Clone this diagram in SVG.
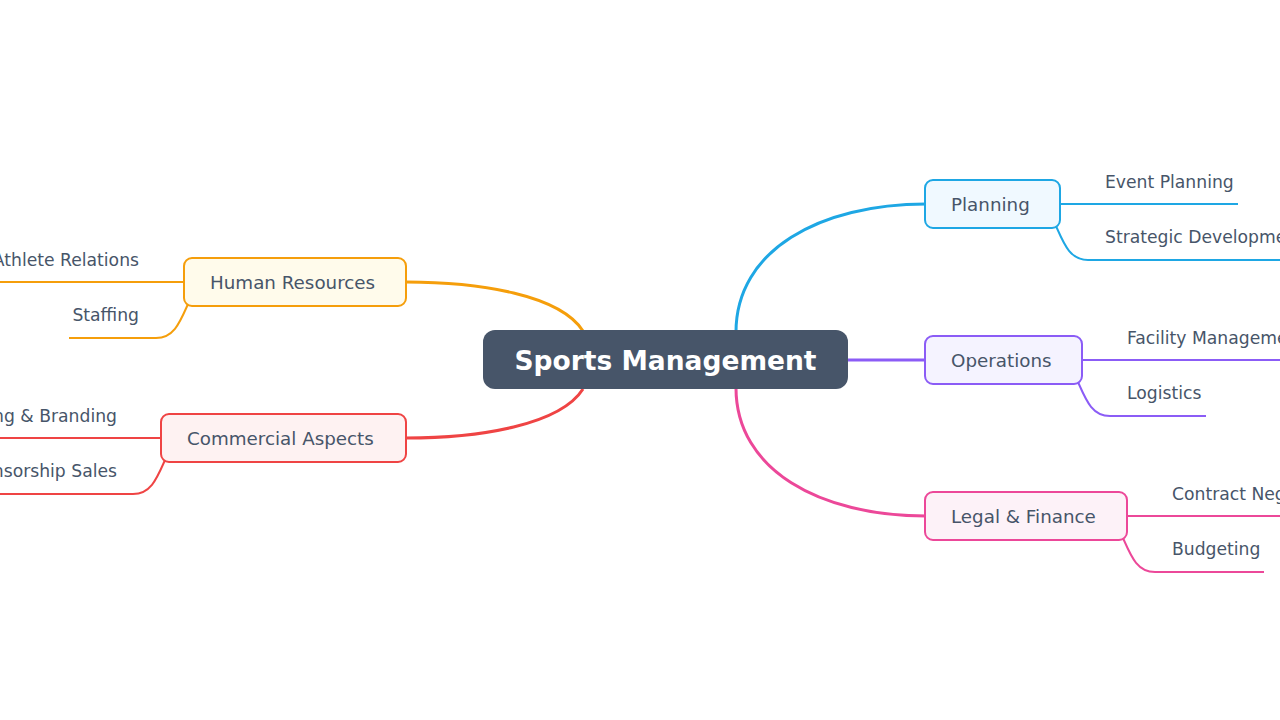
<svg xmlns="http://www.w3.org/2000/svg" width="1280" height="720" viewBox="0 0 1280 720">
<style>
text{font-family:"DejaVu Sans","Liberation Sans",sans-serif;fill:#475569;font-size:18.3px}
.leaf{font-size:17.2px}
.c{fill:none;stroke-width:2}
.m{fill:none;stroke-width:3}
.end{text-anchor:end}
</style>
<rect width="1280" height="720" fill="#fff"/>
<g id="connectors">
<path class="m" stroke="#1ea7e4" d="M736,332 C736,250 820,204 926,204"/>
<path class="m" stroke="#8b5cf6" d="M848,360 L926,360"/>
<path class="m" stroke="#ec4899" d="M736,388 C736,470 820,516 926,516"/>
<path class="m" stroke="#f59e0b" d="M583,331 C560,295 480,282 406,282"/>
<path class="m" stroke="#ef4444" d="M583,389 C560,425 480,438 406,438"/>
<path class="c" stroke="#1ea7e4" d="M1060,204 L1238,204"/>
<path class="c" stroke="#1ea7e4" d="M1056,226 C1064,244 1070,260 1088,260 L1280,260"/>
<path class="c" stroke="#8b5cf6" d="M1082,360 L1280,360"/>
<path class="c" stroke="#8b5cf6" d="M1078,382 C1086,400 1092,416 1110,416 L1206,416"/>
<path class="c" stroke="#ec4899" d="M1127,516 L1280,516"/>
<path class="c" stroke="#ec4899" d="M1123,538 C1131,556 1137,572 1155,572 L1264,572"/>
<path class="c" stroke="#f59e0b" d="M184,282 L0,282"/>
<path class="c" stroke="#f59e0b" d="M188,304 C180,322 174,338 156,338 L69,338"/>
<path class="c" stroke="#ef4444" d="M161,438 L0,438"/>
<path class="c" stroke="#ef4444" d="M165,460 C157,478 151,494 133,494 L0,494"/>
</g>
<g id="root"><rect x="483" y="330" width="365" height="59" rx="12" fill="#475569"/><text x="665.5" y="369.5" text-anchor="middle" style="fill:#fff;font-size:26.5px;font-weight:bold">Sports Management</text></g>
<g id="planning"><rect x="925" y="180" width="135" height="48" rx="8" fill="#f0f9ff" stroke="#1ea7e4" stroke-width="2"/><text x="951" y="211">Planning</text></g>
<g id="operations"><rect x="925" y="336" width="157" height="48" rx="8" fill="#f5f3ff" stroke="#8b5cf6" stroke-width="2"/><text x="951" y="367">Operations</text></g>
<g id="legal"><rect x="925" y="492" width="202" height="48" rx="8" fill="#fdf2f8" stroke="#ec4899" stroke-width="2"/><text x="951" y="523">Legal &amp; Finance</text></g>
<g id="hr"><rect x="184" y="258" width="222" height="48" rx="8" fill="#fffbeb" stroke="#f59e0b" stroke-width="2"/><text x="210" y="289">Human Resources</text></g>
<g id="commercial"><rect x="161" y="414" width="245" height="48" rx="8" fill="#fef2f2" stroke="#ef4444" stroke-width="2"/><text x="187" y="445">Commercial Aspects</text></g>
<g id="leaf-event"><text class="leaf" x="1105" y="188">Event Planning</text></g>
<g id="leaf-strategic"><text class="leaf" x="1105" y="243">Strategic Development</text></g>
<g id="leaf-facility"><text class="leaf" x="1127" y="344">Facility Management</text></g>
<g id="leaf-logistics"><text class="leaf" x="1127" y="399">Logistics</text></g>
<g id="leaf-contract"><text class="leaf" x="1172" y="500">Contract Negotiation</text></g>
<g id="leaf-budgeting"><text class="leaf" x="1172" y="555">Budgeting</text></g>
<g id="leaf-athlete"><text class="leaf end" x="139" y="266">Athlete Relations</text></g>
<g id="leaf-staffing"><text class="leaf end" x="139" y="321">Staffing</text></g>
<g id="leaf-marketing"><text class="leaf end" x="117" y="422">Marketing &amp; Branding</text></g>
<g id="leaf-sponsorship"><text class="leaf end" x="117" y="477">Sponsorship Sales</text></g>
</svg>
